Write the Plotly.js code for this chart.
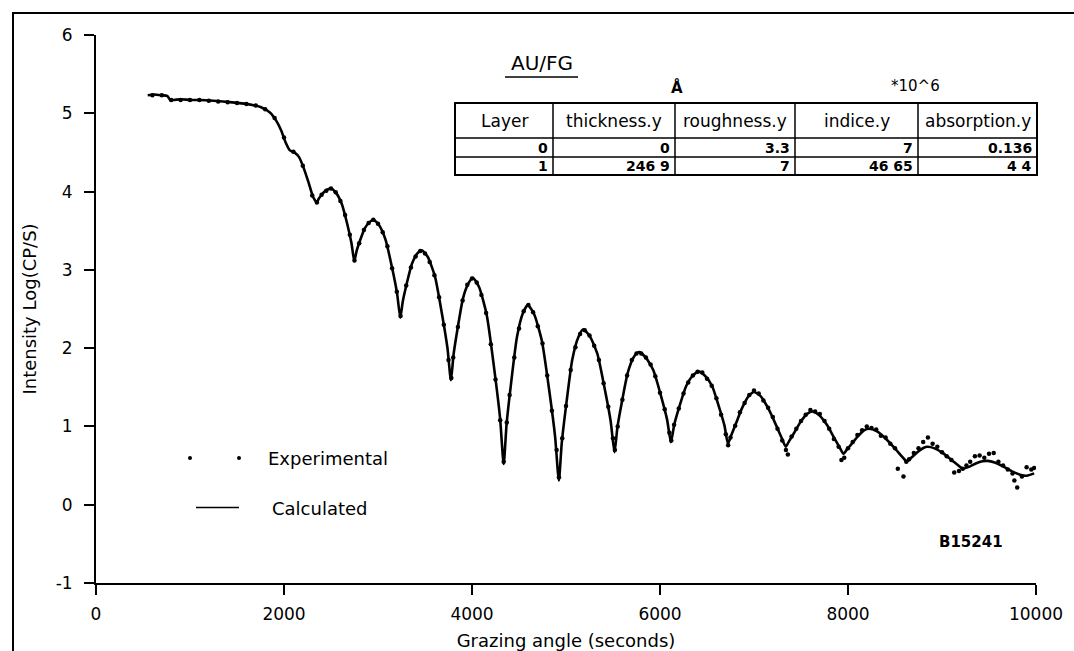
<!DOCTYPE html>
<html>
<head>
<meta charset="utf-8">
<script src="https://cdn.plot.ly/plotly-3.0.1.min.js"></script>
<style>html,body{margin:0;padding:0;background:#fff;}#chart{width:1074px;height:651px;}</style>
</head>
<body>
<div id="chart"></div>
<script>
// ---- Data ----
const calcX = [550,620,700,760,790,900,1000,1100,1250,1450,1600,1750,1850,1920,1970,2020,2060,2110,2160,2210,2260,2310,
  2350,2368,2395,2432,2470,2500,2550,2612,2674,2718,2748,2772,2809,2859,2910,2950,3007,3079,3151,3203,
  3237,3264,3305,3362,3419,3465,3527,3605,3683,3739,3776,3804,3846,3905,3963,4010,4075,4157,4239,4298,
  4337,4368,4414,4478,4542,4593,4659,4742,4825,4884,4924,4955,5002,5066,5131,5183,5250,5333,5416,5476,
  5516,5547,5594,5658,5723,5775,5843,5928,6014,6075,6116,6152,6205,6280,6354,6414,6476,6553,6630,6686,
  6723,6756,6806,6875,6945,7000,7068,7152,7237,7297,7338,7372,7423,7494,7565,7622,7688,7770,7853,7912,
  7952,7985,8034,8102,8170,8225,8305,8405,8506,8578,8626,8652,8692,8747,8802,8846,8921,9014,9107,9174,
  9219,9300,9365,9430,9485,9560,9650,9740,9840,9900,9980];
const calcY = [5.23,5.24,5.23,5.22,5.17,5.18,5.17,5.17,5.16,5.14,5.12,5.08,5.01,4.90,4.78,4.62,4.53,4.50,4.44,4.30,4.12,3.93,
  3.86,3.905,3.95,4.00,4.03,4.04,3.99,3.85,3.58,3.34,3.11,3.24,3.375,3.53,3.61,3.64,3.58,3.39,3.02,2.70,
  2.39,2.60,2.82,3.08,3.21,3.25,3.17,2.92,2.42,2.00,1.59,1.92,2.245,2.64,2.83,2.90,2.78,2.42,1.71,1.115,
  0.52,1.03,1.535,2.14,2.45,2.55,2.44,2.10,1.43,0.87,0.31,0.79,1.275,1.85,2.14,2.24,2.16,1.93,1.455,1.06,
  0.67,0.99,1.31,1.69,1.89,1.95,1.89,1.72,1.375,1.09,0.80,1.025,1.25,1.52,1.655,1.70,1.65,1.52,1.24,1.01,
  0.78,0.88,1.03,1.24,1.39,1.44,1.39,1.23,1.01,0.845,0.74,0.81,0.91,1.055,1.16,1.19,1.15,1.03,0.855,0.73,
  0.65,0.70,0.77,0.87,0.95,0.97,0.94,0.84,0.71,0.61,0.55,0.58,0.62,0.68,0.725,0.74,0.72,0.656,0.566,0.50,
  0.46,0.49,0.53,0.555,0.56,0.54,0.49,0.43,0.38,0.37,0.40];

const expX = [600,700,800,900,1000,1100,1200,1300,1400,1500,1600,1700,1800,1900,2000,2100,2200,2300,
  2350,2400,2450,2500,2550,2600,2650,2700,2750,2800,2850,2900,2950,3000,3050,3100,3150,3200,3240,
  3300,3350,3400,3450,3500,3550,3600,3650,3700,3750,3780,3800,3850,3900,3950,4000,4050,4100,4150,4200,
  4250,4300,4337,4370,4400,4450,4500,4550,4600,4650,4700,4750,4800,4850,4900,4925,4960,5000,5050,5100,
  5150,5200,5250,5300,5350,5400,5450,5500,5520,5550,5600,5650,5700,5750,5800,5850,5900,5950,6000,6050,
  6100,6120,6150,6200,6250,6300,6350,6400,6450,6500,6550,6600,6650,6700,6725,6750,6800,6850,6900,6950,
  7000,7050,7100,7150,7200,7250,7300,7340,7360,7400,7450,7500,7550,7600,7650,7700,7750,7800,7850,7900,
  7930,7960,8000,8050,8100,8150,8200,8250,8300,8350,8400,8450,8500,8530,8590,8620,8650,8700,8750,8800,
  8850,8900,8950,9000,9050,9100,9130,9180,9220,9260,9300,9350,9400,9450,9500,9550,9600,9650,9700,9750,
  9770,9800,9850,9900,9950,9980];
const expY = [5.23,5.23,5.17,5.17,5.17,5.17,5.16,5.15,5.14,5.13,5.12,5.10,5.05,4.94,4.69,4.51,4.33,3.95,
  3.86,3.96,4.01,4.04,3.99,3.88,3.70,3.45,3.12,3.34,3.51,3.60,3.64,3.59,3.48,3.30,3.02,2.72,2.41,
  2.80,3.03,3.17,3.24,3.21,3.10,2.93,2.65,2.30,1.85,1.62,1.88,2.27,2.61,2.81,2.89,2.84,2.68,2.45,2.05,
  1.60,1.08,0.55,1.05,1.40,1.88,2.25,2.47,2.55,2.46,2.28,2.06,1.65,1.20,0.70,0.35,0.85,1.26,1.72,2.01,
  2.18,2.23,2.16,2.03,1.85,1.55,1.25,0.85,0.70,1.00,1.34,1.65,1.85,1.93,1.93,1.88,1.79,1.64,1.43,1.22,
  0.92,0.82,1.02,1.23,1.42,1.56,1.65,1.70,1.69,1.61,1.52,1.36,1.15,0.90,0.76,0.86,1.01,1.18,1.30,1.40,
  1.46,1.42,1.33,1.24,1.12,0.97,0.82,0.70,0.64,0.87,0.97,1.07,1.15,1.21,1.19,1.16,1.07,0.97,0.84,0.74,
  0.57,0.60,0.72,0.80,0.89,0.95,1.00,0.98,0.96,0.88,0.86,0.78,0.72,0.46,0.36,0.55,0.58,0.66,0.72,0.80,
  0.86,0.78,0.74,0.67,0.62,0.57,0.41,0.43,0.46,0.50,0.55,0.62,0.63,0.60,0.65,0.66,0.55,0.50,0.45,0.40,
  0.31,0.22,0.36,0.48,0.45,0.47];

const xTicks = [0,2000,4000,6000,8000,10000];
const yTicks = [-1,0,1,2,3,4,5,6];

const tableHeaders = ['Layer','thickness.y','roughness.y','indice.y','absorption.y'];
const tableRow0 = ['0','0','3.3','7','0.136'];
const tableRow1 = ['1','246 9','7','46 65','4 4'];

// ---- Layout helpers (pixel -> paper) ----
const L=96, R=1036, T=35, B=583;
const px = v => (v-L)/(R-L);
const py = v => (B-v)/(B-T);
const FONT = 'DejaVu Sans, Arial, sans-serif';

const shapes = [];
const annotations = [];
function hline(x0,x1,y,w){shapes.push({type:'line',xref:'paper',yref:'paper',x0:px(x0),x1:px(x1),y0:py(y),y1:py(y),line:{color:'#000',width:w}});}
function vline(x,y0,y1,w){shapes.push({type:'line',xref:'paper',yref:'paper',x0:px(x),x1:px(x),y0:py(y0),y1:py(y1),line:{color:'#000',width:w}});}
function text(t,x,y,size,xanchor,bold){annotations.push({text:bold?'<b>'+t+'</b>':t,xref:'paper',yref:'paper',x:px(x),y:py(y),xanchor:xanchor||'center',yanchor:'middle',showarrow:false,font:{family:FONT,size:size,color:'#000'}});}

// outer frame (top and left)
hline(12,1074,13,2);
vline(13,13,651,2);

// table
const colEdges=[455,553,675,795,918,1037];
shapes.push({type:'rect',xref:'paper',yref:'paper',x0:px(455),x1:px(1037),y0:py(103),y1:py(175),line:{color:'#000',width:2},fillcolor:'#fff'});
hline(455,1037,138,1.5); hline(455,1037,157,1.5);
for(let i=1;i<colEdges.length-1;i++) vline(colEdges[i],103,175,1.5);
tableHeaders.forEach((h,i)=>text(h,(colEdges[i]+colEdges[i+1])/2,121,17,'center',false));
tableRow0.forEach((v,i)=>text(v,colEdges[i+1]-3,147.5,14,'right',true));
tableRow1.forEach((v,i)=>text(v,colEdges[i+1]-3,166,14,'right',true));

text('AU/FG',542,63,20,'center',false);
hline(505,578,77,1.5);
text('Å',677,88,15,'center',true);
text('*10^6',915,86,15,'center',false);
text('B15241',971,542,15,'center',true);

// legend
[190,239].forEach(x=>shapes.push({type:'circle',xref:'paper',yref:'paper',x0:px(x-2),x1:px(x+2),y0:py(458+2),y1:py(458-2),fillcolor:'#000',line:{color:'#000',width:0}}));
text('Experimental',266,458,18,'left',false);
hline(196,239,507.5,1.5);
text('Calculated',270,508.5,18,'left',false);

const traces = [
  {x:expX,y:expY,type:'scatter',mode:'markers',marker:{color:'#000',size:4.5},showlegend:false,hoverinfo:'skip'},
  {x:calcX,y:calcY,type:'scatter',mode:'lines',line:{color:'#000',width:2.6,shape:'spline',smoothing:0.6},showlegend:false,hoverinfo:'skip'}
];

const axisCommon = {showgrid:false,zeroline:false,showline:true,linecolor:'#000',linewidth:2,ticks:'outside',ticklen:10,tickwidth:2,tickcolor:'#000',tickfont:{family:FONT,size:17,color:'#000'}};

const layout = {
  width:1074,height:651,
  margin:{l:L,r:1074-R,t:T,b:651-B,pad:0},
  paper_bgcolor:'#fff',plot_bgcolor:'#fff',
  showlegend:false,hovermode:false,
  xaxis:Object.assign({},axisCommon,{range:[0,10000],tickmode:'array',tickvals:xTicks,ticktext:xTicks.map(String),ticklabelstandoff:5,
    title:{text:'Grazing angle (seconds)',font:{family:FONT,size:18,color:'#000'},standoff:12}}),
  yaxis:Object.assign({},axisCommon,{range:[-1,6],tickmode:'array',tickvals:yTicks,ticktext:yTicks.map(v=>v<0?'-'+Math.abs(v):String(v)),ticklabelstandoff:8,
    title:{text:'Intensity Log(CP/S)',font:{family:FONT,size:18,color:'#000'},standoff:14}}),
  shapes:shapes,annotations:annotations
};

Plotly.newPlot('chart',traces,layout,{displayModeBar:false,staticPlot:true});
</script>
</body>
</html>
